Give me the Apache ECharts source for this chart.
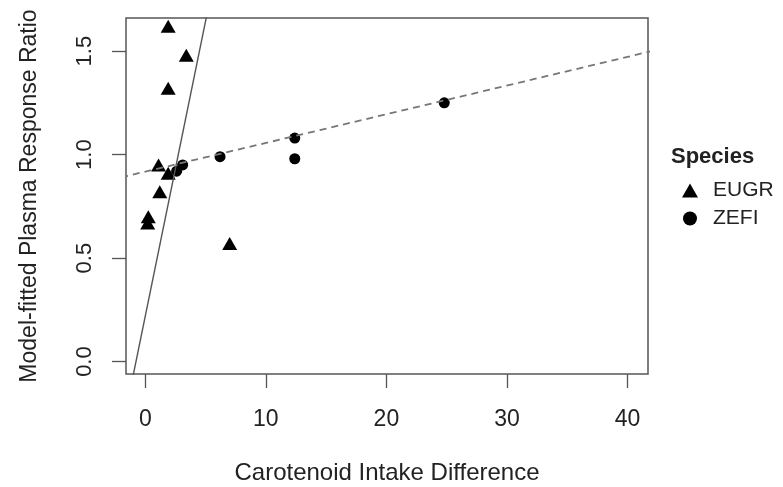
<!DOCTYPE html>
<html>
<head>
<meta charset="utf-8">
<script src="https://cdn.jsdelivr.net/npm/echarts@6/dist/echarts.min.js"></script>
<style>
  html, body { margin: 0; padding: 0; background: #fff; }
  #chart { width: 783px; height: 487px; }
</style>
</head>
<body>
<div id="chart"></div>
<script>
// values
const eugrX = [1.9, 3.4, 1.9, 1.1, 1.9, 1.2, 0.25, 0.2, 7.0]
const eugrY = [1.62, 1.48, 1.32, 0.95, 0.91, 0.82, 0.70, 0.67, 0.57]
const zefiX = [2.6, 3.1, 6.2, 12.4, 12.4, 24.8]
const zefiY = [0.92, 0.95, 0.99, 1.08, 0.98, 1.25]

// fitted lines, end points beyond the plot (clipped)
const solidFitX = [-2, 6]
const solidFitY = [-0.35, 1.93]
const dashFitX = [-2, 42]
const dashFitY = [0.89, 1.50]

const xTicks = [0, 10, 20, 30, 40]
const yTicks = [0, 0.5, 1.0, 1.5]

const X_MIN = -1.6, X_MAX = 41.7
const Y_MIN = -0.06, Y_MAX = 1.66

const FONT = '"Liberation Sans", Arial, sans-serif'
const TEXT = '#222'
const FRAME = '#555'

const pairs = (xs, ys) => xs.map((x, i) => [x, ys[i]])

// second axis of each direction only carries the tick marks
function tickAxis(min, max, ticks, position) {
  return {
    type: 'value', min, max, position,
    axisLine: { show: false, onZero: false },
    splitLine: { show: false },
    axisLabel: { show: false },
    axisTick: { show: true, length: 14, customValues: ticks, lineStyle: { color: FRAME, width: 1.3 } },
  }
}

const chart = echarts.init(document.getElementById('chart'), null, { renderer: 'canvas' })

chart.setOption({
  animation: false,
  textStyle: { fontFamily: FONT },
  title: {
    text: 'Species',
    left: 666,
    top: 141,
    textStyle: { fontFamily: FONT, fontSize: 22, fontWeight: 'bold', color: TEXT },
  },
  legend: {
    orient: 'vertical',
    left: 677,
    top: 175,
    itemWidth: 16,
    itemHeight: 14,
    itemGap: 7,
    textStyle: { fontFamily: FONT, fontSize: 21, color: TEXT, padding: [0, 0, 0, 10] },
    data: [
      { name: 'EUGR', icon: 'triangle' },
      { name: 'ZEFI', icon: 'circle' },
    ],
  },
  grid: {
    left: 126, top: 18, width: 522, height: 356,
    outerBoundsMode: 'none', containLabel: false,
    show: true, borderColor: FRAME, borderWidth: 1.5, backgroundColor: 'transparent',
  },
  xAxis: [
    {
      type: 'value',
      min: X_MIN, max: X_MAX, position: 'bottom',
      name: 'Carotenoid Intake Difference',
      nameLocation: 'middle',
      nameGap: 87,
      nameTextStyle: { fontFamily: FONT, fontSize: 24, color: TEXT },
      axisLine: { show: false, onZero: false },
      splitLine: { show: false },
      axisTick: { show: false },
      axisLabel: { customValues: xTicks, margin: 34, fontSize: 23, color: TEXT, fontFamily: FONT },
    },
    tickAxis(X_MIN, X_MAX, xTicks, 'bottom'),
  ],
  yAxis: [
    {
      type: 'value',
      min: Y_MIN, max: Y_MAX, position: 'left',
      name: 'Model-fitted Plasma Response Ratio',
      nameLocation: 'middle',
      nameGap: 85,
      nameRotate: 90,
      nameTextStyle: { fontFamily: FONT, fontSize: 23, color: TEXT },
      axisLine: { show: false, onZero: false },
      splitLine: { show: false },
      axisTick: { show: false },
      axisLabel: {
        customValues: yTicks, rotate: 90, margin: 30, fontSize: 22, color: TEXT, fontFamily: FONT,
        formatter: v => v.toFixed(1),
      },
    },
    tickAxis(Y_MIN, Y_MAX, yTicks, 'left'),
  ],
  series: [
    {
      name: 'solidFit', type: 'line', data: pairs(solidFitX, solidFitY),
      symbol: 'none', clip: true, silent: true,
      lineStyle: { color: '#555', width: 1.4 },
    },
    {
      name: 'dashFit', type: 'line', data: pairs(dashFitX, dashFitY),
      symbol: 'none', clip: true, silent: true,
      lineStyle: { color: '#777', width: 1.8, type: [7, 5] },
    },
    {
      name: 'EUGR', type: 'scatter', data: pairs(eugrX, eugrY),
      symbol: 'triangle', symbolSize: [15, 13],
      itemStyle: { color: '#000', opacity: 1 },
    },
    {
      name: 'ZEFI', type: 'scatter', data: pairs(zefiX, zefiY),
      symbol: 'circle', symbolSize: 11,
      itemStyle: { color: '#000', opacity: 1 },
    },
  ],
})
</script>
</body>
</html>
